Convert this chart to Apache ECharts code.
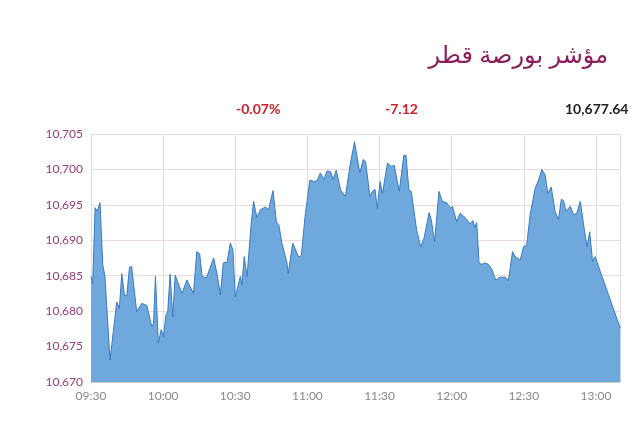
<!DOCTYPE html>
<html><head><meta charset="utf-8">
<script src="https://cdn.jsdelivr.net/npm/echarts@6/dist/echarts.min.js"></script>
<style>html,body{margin:0;padding:0;background:#fff}#c{width:640px;height:426px}</style>
</head><body><div id="c"></div>
<script>
const minutes = [0,0.7,1.7,2.6,3.75,4.9,5.8,7.9,10.7,11.8,12.8,13.9,14.9,16,16.9,19,21.1,23.2,25.3,26,26.8,28,29.2,30.1,31.2,31.9,32.9,34,35,37.8,39.9,42.6,44,45.2,46.2,48,49.4,51,52.5,53.8,55,56.6,57.9,59,60,62.1,62.8,63.7,64.9,66.5,67.6,69,70.4,72.5,73.9,74.6,75.7,77.1,78.1,79.4,81.5,82,83.9,86.4,87.5,89,91,92.6,94,95.4,96.8,98.2,99.6,100.7,102,103.8,105.8,107.9,109.6,111.8,113.2,114.2,116,117,118.1,119.1,120.2,121.2,123.3,125,126.1,128.2,130.1,131,132.2,133.2,135.4,137.1,138.5,140.6,141.5,142.9,144.7,146.1,147.9,149.6,150.3,152.1,153.5,155.6,157.6,158.8,159.7,160.4,161.4,162.5,163.9,165.3,166.7,168.3,170.1,172.2,173.6,175.3,176.4,178.5,179.9,181.2,182.6,184.7,186.1,187.5,188.9,190,191.4,193,194.4,195.6,196.5,197.5,199.3,200.7,202,203.5,204.9,206.3,207.4,208.6,209.7,211.8,220.1];
const values = [10684.9,10683.8,10694.6,10694.1,10695.3,10686.5,10684.9,10673.1,10681.3,10680.4,10685.3,10682.2,10682.2,10686.2,10686.3,10679.9,10681.1,10680.8,10677.8,10678.3,10684.9,10675.5,10677.4,10676.4,10679.5,10679.9,10685.2,10679.2,10685.1,10682.5,10684.4,10682.5,10688.4,10688.1,10684.9,10684.7,10686,10687.5,10685.1,10682.3,10686.8,10686.9,10689.6,10688.7,10682,10684.9,10683.7,10687.7,10684.9,10691.9,10695.5,10693.2,10694.3,10694.7,10694.3,10695.5,10697,10692.6,10692.2,10689.6,10686.8,10685.3,10689.6,10687.6,10687.9,10693.3,10698.5,10698.3,10698.4,10699.5,10698.6,10699.8,10699.7,10698.6,10699.9,10697.1,10696.2,10700.9,10703.9,10699.5,10701.4,10701.1,10696.2,10696.9,10697.2,10694.5,10698.3,10696.6,10700.9,10700.4,10700.6,10696.9,10702,10702,10697.1,10696.9,10691.5,10689.1,10690.3,10693.9,10692.9,10689.8,10696.9,10695.5,10695.3,10694.5,10694.8,10692.6,10693.8,10693.2,10692.3,10692.8,10691.8,10692.5,10686.8,10686.6,10686.8,10686.6,10685.9,10684.4,10684.8,10684.8,10684.3,10688.4,10687.7,10687.2,10689.1,10689.3,10693.6,10697.3,10698.5,10700,10699.2,10696.6,10697.5,10694.1,10692.9,10695.8,10695.6,10694.1,10694.8,10693.6,10693.8,10695.5,10692.1,10689.1,10691.2,10687,10687.7,10685.6,10677.6];
const yTicks = {min:10670, max:10705, step:5};
const title = 'مؤشر بورصة قطر';
const stats = ['-0.07%','-7.12','10,677.64'];
const chart = echarts.init(document.getElementById('c'));
const fmtTime = m => { const t = 570 + m; const h = Math.floor(t/60), mm = t%60; return String(h).padStart(2,'0')+':'+String(mm).padStart(2,'0'); };
chart.setOption({
  animation:false,
  graphic:[
    {type:'text',right:32,top:44,style:{text:title,font:'24px "Noto Sans", "DejaVu Sans", sans-serif',fill:'#8b1d5b'}},
    {type:'text',left:236,top:102,style:{text:stats[0],font:'bold 14px Lato, sans-serif',fill:'#d0202e',align:'center',verticalAlign:'middle'}},
    {type:'text',left:385,top:102,style:{text:stats[1],font:'bold 14px Lato, sans-serif',fill:'#d0202e',align:'center',verticalAlign:'middle'}},
    {type:'text',left:565,top:102,style:{text:stats[2],font:'bold 14px Lato, sans-serif',fill:'#222',align:'center',verticalAlign:'middle'}}
  ],
  grid:{left:91,right:20,top:134,bottom:44},
  xAxis:{type:'value',min:0,max:220,interval:30,
    axisLine:{lineStyle:{color:'#ccc'}},axisTick:{show:false},
    axisLabel:{formatter:v=>fmtTime(v),color:'#888',fontSize:12,fontFamily:'Lato',showMaxLabel:false},
    splitLine:{show:true,lineStyle:{color:'#e2dde2'}}},
  yAxis:{type:'value',min:yTicks.min,max:yTicks.max,interval:yTicks.step,
    axisLine:{show:true,lineStyle:{color:'#ddd'}},axisTick:{show:false},
    axisLabel:{formatter:v=>v.toLocaleString('en-US'),color:'#9b3a76',fontSize:12,fontFamily:'Lato'},
    splitLine:{lineStyle:{color:'#f0d8e2'}}},
  series:[{type:'line',data:minutes.map((m,i)=>[m,values[i]]),symbol:'none',
    lineStyle:{color:'#3b7bbf',width:1},areaStyle:{color:'#6fa8dc',opacity:1,origin:'start'}}]
});
</script></body></html>
